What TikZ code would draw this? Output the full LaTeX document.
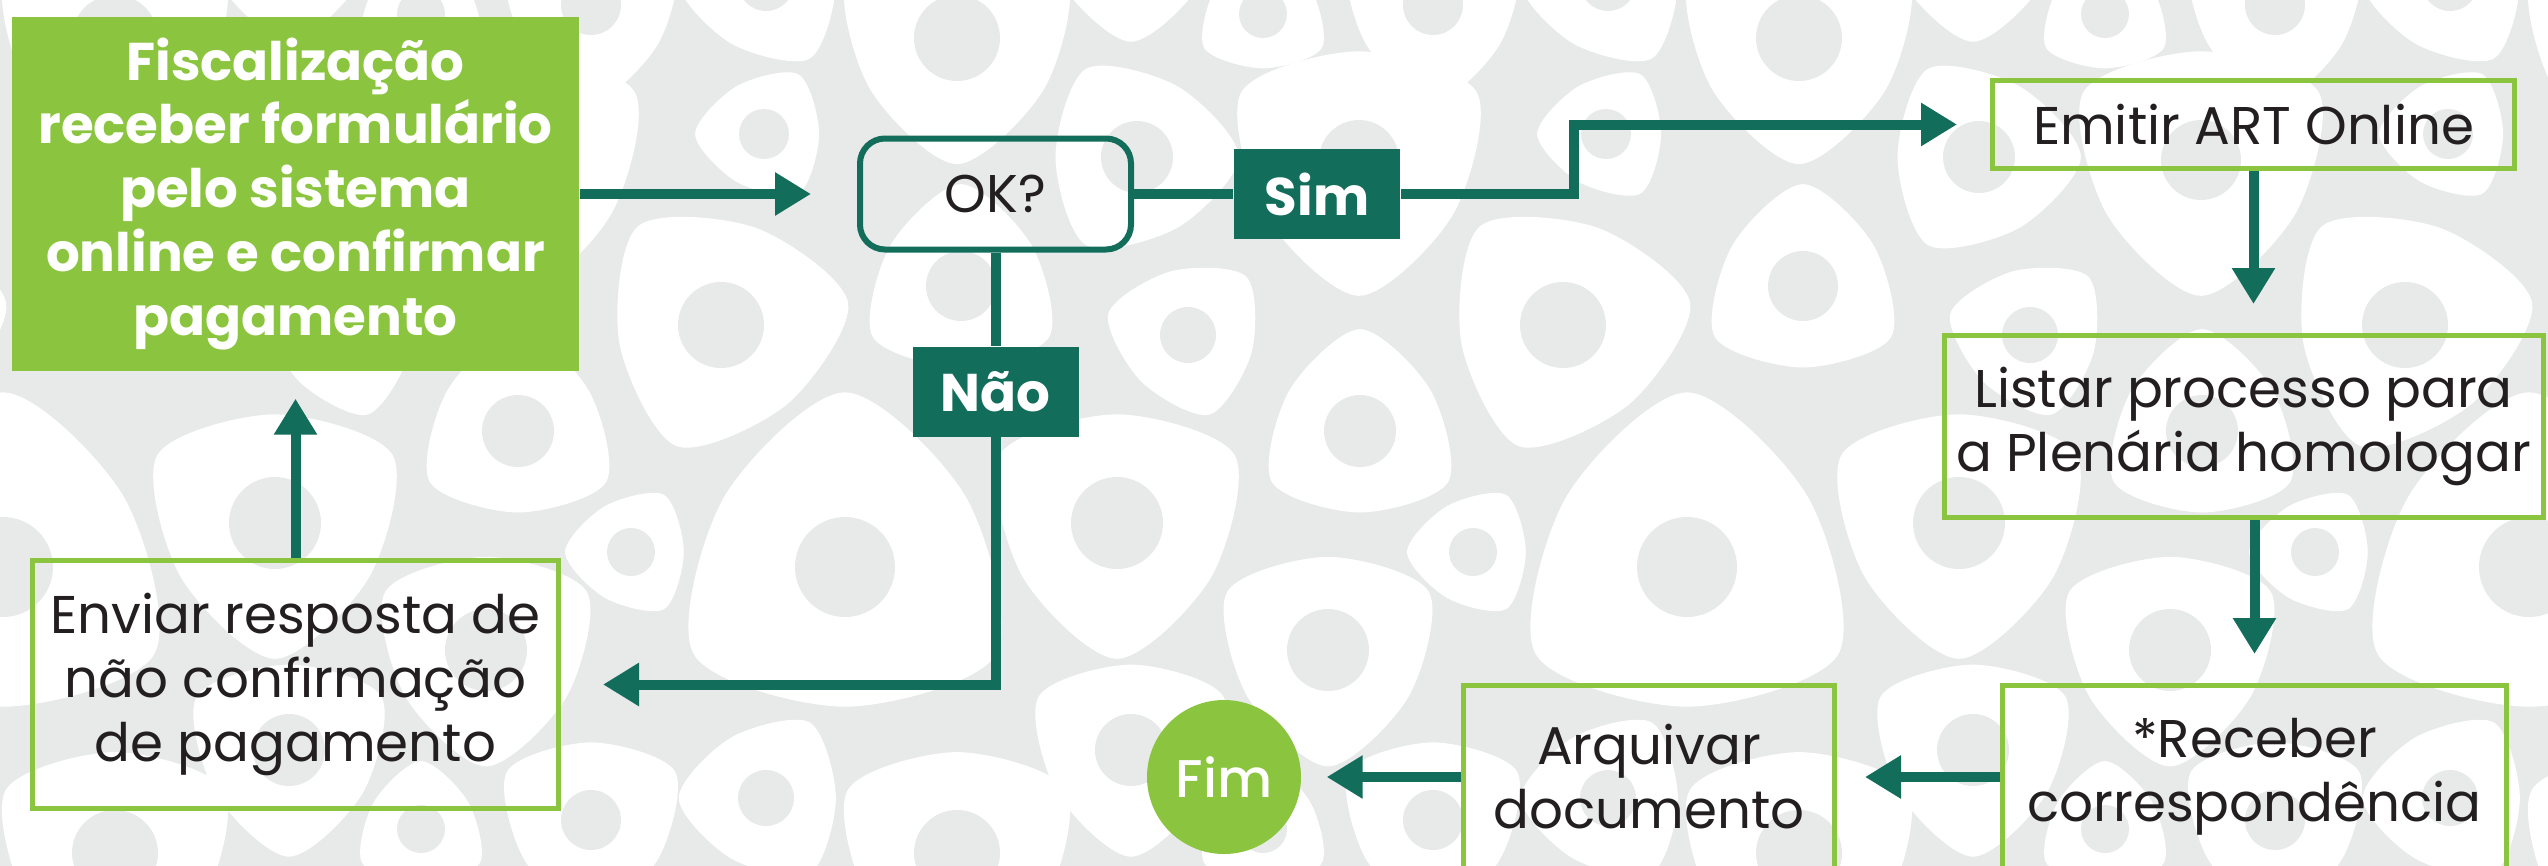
\documentclass[tikz,border=0pt]{standalone}
\usepackage{fontspec}
\setmainfont{Poppins}
\IfFontExistsTF{Poppins Medium}{\newfontfamily\medfont{Poppins Medium}}{\newcommand\medfont{\bfseries}}
\usetikzlibrary{arrows.meta}
\definecolor{leaf}{HTML}{8BC53F}
\definecolor{pine}{HTML}{126D5A}
\definecolor{fog}{HTML}{E8EAE9}
\definecolor{ink}{HTML}{231F20}

\begin{document}
\begin{tikzpicture}[
  txt/.style={font=\fontsize{15.1}{18.2}\selectfont, text=ink, align=center, inner sep=0pt},
  stepbox/.style={txt, draw=leaf, line width=0.05cm},
  tag/.style={txt, fill=pine, text=white, font=\fontsize{15.1}{18.2}\selectfont\bfseries,
    minimum width=1.66cm, minimum height=0.9cm},
  link/.style={draw=pine, line width=0.1cm},
  flow/.style={link, -{Triangle[length=0.36cm, width=0.41cm]}}
]

% background
\useasboundingbox (0,0) rectangle (25.48,-8.66);
\fill[fog] (0,0) rectangle (25.48,-8.66);
\begin{scope}
\clip (0,0) rectangle (25.48,-8.66);
% white blobs
\foreach \dx in {-16.84,-8.42,0,8.42,16.84}
\foreach \dy in {0,-8.15}
\foreach \bx/\by/\br/\ba in
{9.57/0.38/1.30/270, 12.63/0.14/0.70/90, 14.33/0.05/1.00/270, 11.37/1.57/1.05/240,
 13.59/1.60/1.40/270, 16.06/1.34/0.71/60, 9.61/2.86/1.05/90, 11.88/3.35/0.85/45,
 15.63/3.25/1.33/250, 13.60/4.31/1.05/90, 11.17/5.23/1.40/270, 14.73/5.52/0.68/60,
 16.87/5.67/1.80/210, 13.28/6.50/1.20/150, 11.31/-0.65/1.10/270, 16.08/-0.17/0.90/60}
\fill[white, shift={(\bx+\dx,\dy-\by)}, rotate=\ba, scale=0.97*\br]
  plot[smooth cycle] coordinates {(0:1) (60:0.8) (120:1) (180:0.8) (240:1) (300:0.8)};
% grey holes
\foreach \dx in {-16.84,-8.42,0,8.42,16.84}
\foreach \dy in {0,-8.15}
\foreach \bx/\by/\hr in
{9.57/0.38/0.43, 12.63/0.14/0.24, 14.33/0.05/0.30, 11.37/1.57/0.36,
 13.59/1.60/0.40, 16.06/1.34/0.25, 9.61/2.86/0.35, 11.88/3.35/0.28,
 15.63/3.25/0.43, 13.60/4.31/0.36, 11.17/5.23/0.46, 14.73/5.52/0.24,
 16.87/5.67/0.50, 13.28/6.50/0.41, 11.31/-0.65/0.36, 16.08/-0.17/0.28}
\fill[fog] (\bx+\dx,\dy-\by) circle (\hr);
\end{scope}

% boxes
\node[txt, fill=leaf, text=white, font=\fontsize{15.1}{18.2}\selectfont\bfseries,
  minimum width=5.67cm, minimum height=3.54cm] (fisc) at (2.955,-1.94)
  {Fiscalização\\receber formulário\\pelo sistema\\online e confirmar\\pagamento};
\node[txt, draw=pine, line width=0.06cm, rounded corners=0.25cm,
  minimum width=2.71cm, minimum height=1.11cm] (ok) at (9.955,-1.94) {OK?};
\node[tag] (sim) at (13.17,-1.94) {Sim};
\node[tag] (nao) at (9.955,-3.915) {Não};
\node[stepbox, minimum width=5.22cm, minimum height=0.88cm] (emit) at (22.535,-1.245) {Emitir ART Online};
\node[stepbox, minimum width=5.99cm, minimum height=1.82cm] (list) at (22.435,-4.265)
  {Listar processo para\\a Plenária homologar};
\node[stepbox, minimum width=5.04cm, minimum height=1.83cm] (rec) at (22.545,-7.77)
  {*Receber\\correspondência};
\node[stepbox, minimum width=3.71cm, minimum height=1.83cm] (arq) at (16.49,-7.77)
  {Arquivar\\documento};
\node[txt, circle, fill=leaf, text=white, font=\medfont\fontsize{15.1}{18.2}\selectfont,
  minimum size=1.54cm] (fim) at (12.24,-7.77) {Fim};
\node[stepbox, minimum width=5.26cm, minimum height=2.48cm] (env) at (2.955,-6.845)
  {Enviar resposta de\\não confirmação\\de pagamento};

% connectors
\coordinate (bend) at (15.74,-1.94);
\draw[flow, shorten >=0.46cm] (fisc) -- (ok);
\draw[link] (ok) -- (sim);
\draw[flow, shorten >=0.33cm] (sim) -- (bend) |- (emit);
\draw[flow, shorten >=0.29cm] (emit.south) -- (emit.south |- list.north);
\draw[flow, shorten >=0.29cm] (rec.north |- list.south) -- (rec.north);
\draw[flow, shorten >=0.28cm] (rec) -- (arq);
\draw[flow, shorten >=0.25cm] (arq) -- (fim);
\draw[link] (ok) -- (nao);
\draw[flow, shorten >=0.42cm] (nao) |- (env);
\draw[flow, shorten >=0.27cm] (env) -- (fisc);
\end{tikzpicture}
\end{document}
